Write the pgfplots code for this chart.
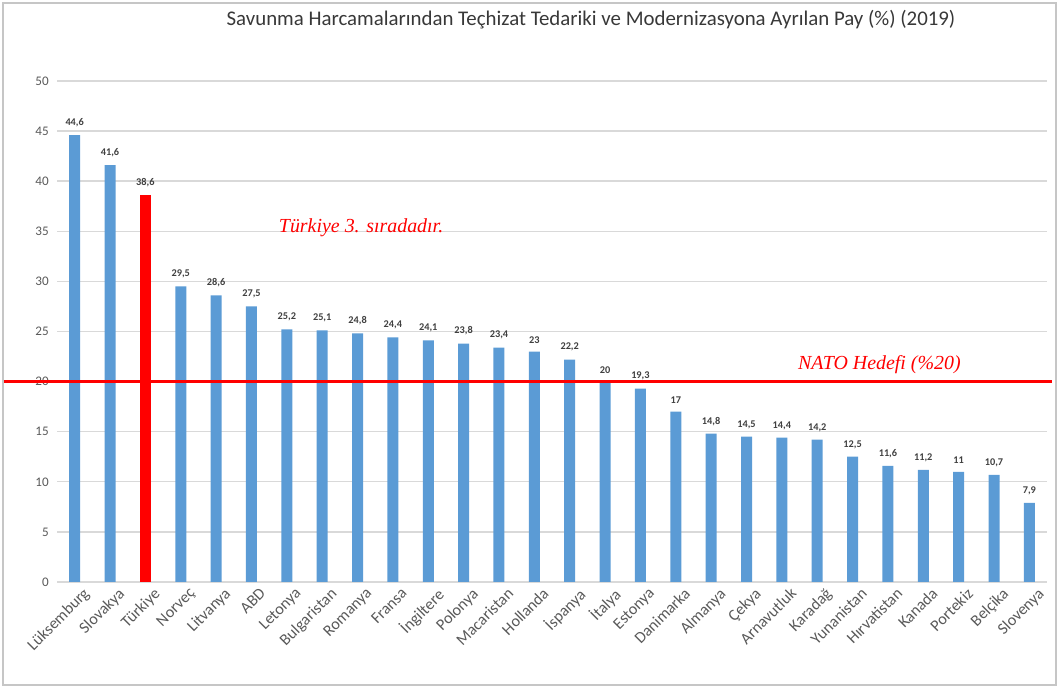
\documentclass[border=0pt]{standalone}
\usepackage{fontspec}
\setmainfont{Carlito}
\newfontfamily\timesf{Liberation Serif}
\usepackage{pgfplots}
\pgfplotsset{compat=1.18}
\definecolor{barblue}{HTML}{5B9BD5}
\definecolor{tickgray}{HTML}{595959}
\definecolor{gridgray}{HTML}{D9D9D9}
\definecolor{nred}{HTML}{FF0000}
\begin{document}
\begin{tikzpicture}[x=0.015cm,y=0.015cm]
\path (0,0) rectangle (1059,688);
\draw[gray!45, line width=1pt] (3,3) rectangle (1056,685);
\node[font=\fontsize{8.9}{10}\selectfont, text=black!78] at (591,668) {Savunma Harcamalarından Teçhizat Tedariki ve Modernizasyona Ayrılan Pay (\%) (2019)};
\begin{axis}[
  at={(0.855cm,1.59cm)}, anchor=south west,
  scale only axis, width=14.85cm, height=7.515cm,
  ymin=0, ymax=50, ytick={0,5,...,50},
  xmin=-0.5, xmax=27.5, xtick={0,...,27},
  xticklabels={Lüksemburg,Slovakya,Türkiye,Norveç,Litvanya,ABD,Letonya,Bulgaristan,Romanya,Fransa,İngiltere,Polonya,Macaristan,Hollanda,İspanya,İtalya,Estonya,Danimarka,Almanya,Çekya,Arnavutluk,Karadağ,Yunanistan,Hırvatistan,Kanada,Portekiz,Belçika,Slovenya},
  x tick label style={rotate=45, anchor=north east, font=\fontsize{6.9}{8}\selectfont, text=tickgray, inner sep=1pt, xshift=2pt, yshift=-2.5pt},
  y tick label style={font=\fontsize{5.6}{7}\selectfont, text=tickgray},
  /pgf/number format/assume math mode=true,
  /pgf/number format/use comma,
  ymajorgrids, grid style={gridgray, line width=0.6pt},
  axis line style={draw=none}, major tick length=0pt,
  ybar, bar width=0.165cm, bar shift=0pt,
  nodes near coords,
  nodes near coords style={font=\bfseries\fontsize{4.4}{5}\selectfont, text=black!75, inner sep=1.5pt, yshift=1.8pt},
  clip=false, enlargelimits=false,
]
\addplot[fill=barblue, draw=none] coordinates {
 (0,44.6) (1,41.6) (3,29.5) (4,28.6) (5,27.5) (6,25.2) (7,25.1) (8,24.8) (9,24.4)
 (10,24.1) (11,23.8) (12,23.4) (13,23) (14,22.2) (15,20) (16,19.3) (17,17) (18,14.8)
 (19,14.5) (20,14.4) (21,14.2) (22,12.5) (23,11.6) (24,11.2) (25,11) (26,10.7) (27,7.9)};
\addplot[fill=nred, draw=none] coordinates {(2,38.6)};
\draw[nred, line width=1.3pt] (axis cs:-2.0,20) -- (axis cs:27.65,20);
\node[text=nred, font=\timesf\itshape\fontsize{8.5}{10}\selectfont] at (axis cs:8.1,35.4) {Türkiye 3. sıradadır.};
\node[text=nred, font=\timesf\itshape\fontsize{8.5}{10}\selectfont] at (axis cs:22.76,21.7) {NATO Hedefi (\%20)};
\end{axis}
\end{tikzpicture}
\end{document}
